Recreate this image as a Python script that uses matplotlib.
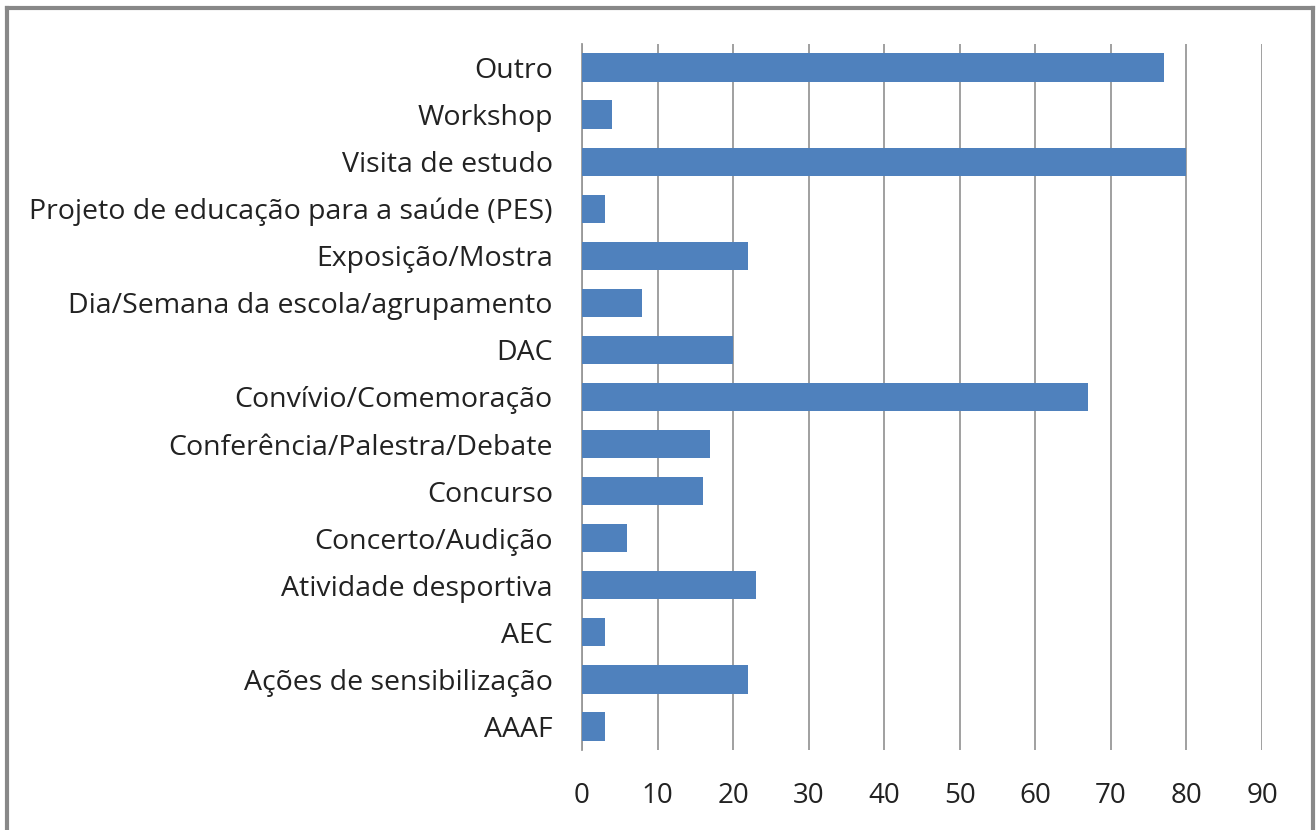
import numpy as np
import matplotlib.pyplot as plt
from matplotlib.lines import Line2D

categories = ["AAAF", "Ações de sensibilização", "AEC", "Atividade desportiva",
              "Concerto/Audição", "Concurso", "Conferência/Palestra/Debate",
              "Convívio/Comemoração", "DAC", "Dia/Semana da escola/agrupamento",
              "Exposição/Mostra", "Projeto de educação para a saúde (PES)",
              "Visita de estudo", "Workshop", "Outro"]
values = [3, 22, 3, 23, 6, 16, 17, 67, 20, 8, 22, 3, 80, 4, 77]
xticks = [0, 10, 20, 30, 40, 50, 60, 70, 80, 90]

W, H = 1316, 830
fig = plt.figure(figsize=(W / 100, H / 100), dpi=100)
plt.rcParams['font.family'] = ['Open Sans', 'DejaVu Sans']

ax = fig.add_axes([582 / W, 1 - 750 / H, (1262 - 582) / W, (750 - 44) / H])
y = np.arange(len(categories))
ax.barh(y, values, height=0.6, color="#4F81BD", zorder=3)
ax.set_ylim(-0.5, len(categories) - 0.5)
ax.set_xlim(0, 90)
ax.set_xticks(xticks)
ax.set_yticks(y)
ax.set_yticklabels(categories, fontsize=20.5, color="#222222")
ax.tick_params(axis="x", labelsize=20, colors="#222222", length=0, pad=23)
ax.tick_params(axis="y", length=0, pad=21)
ax.grid(axis="x", color="#999999", linewidth=1.3, zorder=0)
for s in ["top", "right", "bottom"]:
    ax.spines[s].set_visible(False)
ax.spines["left"].set_color("#999999")
ax.spines["left"].set_linewidth(1.3)

# outer frame of the picture
frame = dict(color="#888888", linewidth=3, transform=fig.transFigure)
fig.add_artist(Line2D([6.5 / W, 6.5 / W], [0, 1 - 8.5 / H], **frame))
fig.add_artist(Line2D([6.5 / W, 1313 / W], [1 - 8.5 / H, 1 - 8.5 / H], **frame))
fig.add_artist(Line2D([1313 / W, 1313 / W], [0, 1 - 8.5 / H], **frame))

fig.savefig("out.png", dpi=100)
